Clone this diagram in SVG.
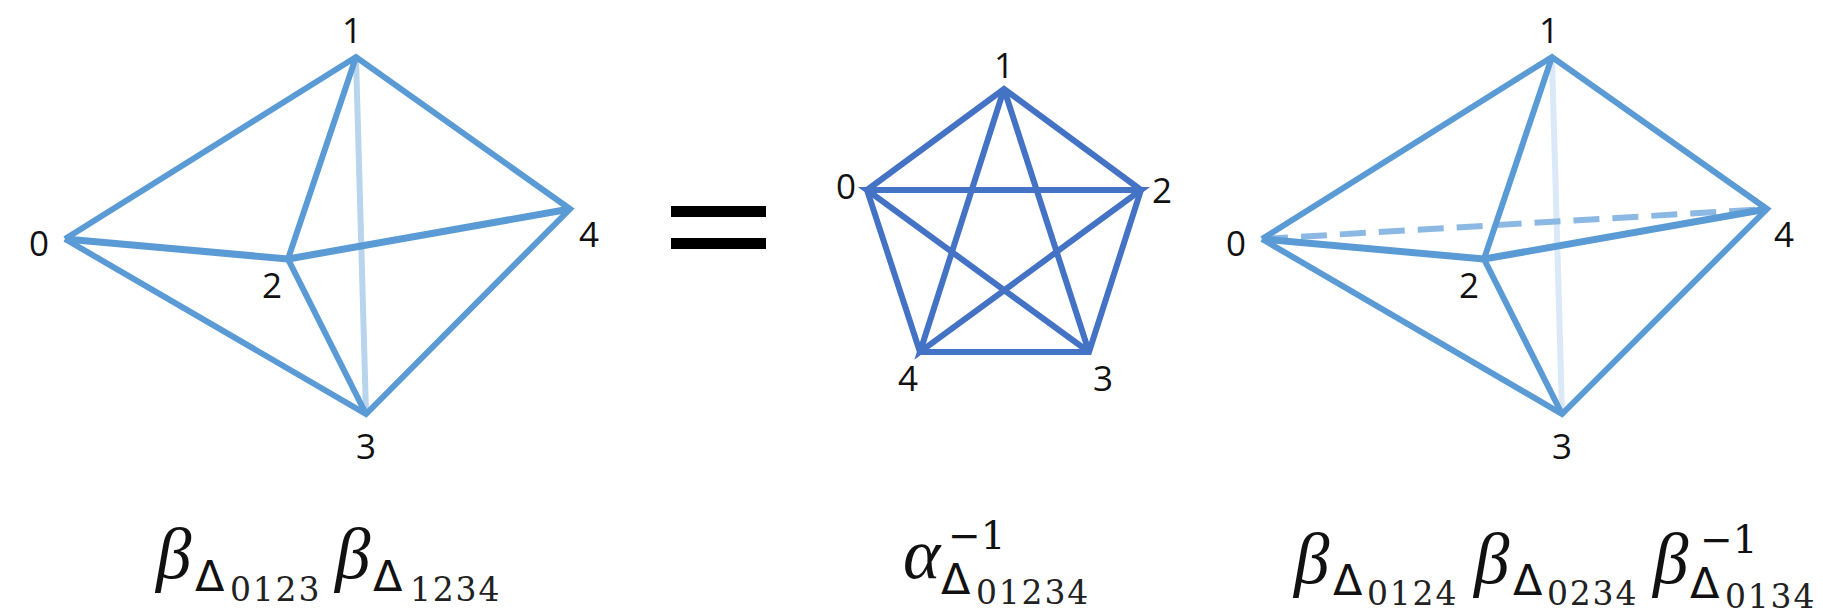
<svg xmlns="http://www.w3.org/2000/svg" width="1823" height="615" viewBox="0 0 1823 615">
<style>
.e{stroke:#5b9bd5;stroke-width:6;fill:none;stroke-linecap:butt;stroke-linejoin:miter}
.t{stroke:#5b9bd5;stroke-width:7;fill:none;stroke-linejoin:round}
.f{stroke:#b9d5ee;stroke-width:6;fill:none}
.g{stroke:#dae8f7;stroke-width:6;fill:none}
.d{stroke:#8cb9e3;stroke-width:6;fill:none;stroke-dasharray:26 13}
.p{stroke:#4472c4;stroke-width:6;fill:none;stroke-linejoin:miter}
.n{font-family:"Open Sans",sans-serif;font-size:35px;fill:#111;text-anchor:middle}
.m{font-family:"Liberation Serif",serif;font-style:italic;font-size:71px;fill:#111}
.s{font-family:"DejaVu Serif",serif;font-size:33px;fill:#222;letter-spacing:1.8px}
.D{font-family:"DejaVu Sans",sans-serif;font-size:43px;fill:#111}
.u{font-family:"DejaVu Serif",serif;font-size:39px;fill:#111}
</style>
<g id="connectors">
<path class="f" d="M356 58L366 413"/>
<path class="e" d="M65 239L356 57L570 209L366 414L65 239"/>
<path class="e" d="M356 57Q318 170 288 259L366 414"/>
<path class="t" d="M65 239L288 259L570 209"/>
<path class="g" d="M1552 58L1562 413"/>
<path class="d" d="M1262 239L1767 209"/>
<path class="e" d="M1262 239L1552 57L1767 209L1562 414L1262 239"/>
<path class="e" d="M1552 57Q1514 170 1484 259L1562 414"/>
<path class="t" d="M1262 239L1484 259L1767 209"/>
<path class="p" d="M1004 89L1141 190L1089 352L920 352L867 190Z"/>
<path class="p" d="M1004 89L1089 352M1004 89L920 352L1141 190L867 190L1089 352"/>
</g>
<g id="equals"><rect x="671" y="206" width="95" height="11"/><rect x="671" y="238" width="95" height="11"/></g>
<g id="left-labels"><text class="n" x="39" y="256">0</text><text class="n" x="352" y="43">1</text><text class="n" x="272" y="298">2</text><text class="n" x="366" y="459">3</text><text class="n" x="589" y="247">4</text></g>
<g id="mid-labels"><text class="n" x="846" y="199">0</text><text class="n" x="1004" y="78">1</text><text class="n" x="1162" y="203">2</text><text class="n" x="1103" y="391">3</text><text class="n" x="908" y="391">4</text></g>
<g id="right-labels"><text class="n" x="1236" y="256">0</text><text class="n" x="1549" y="43">1</text><text class="n" x="1469" y="298">2</text><text class="n" x="1562" y="459">3</text><text class="n" x="1784" y="247">4</text></g>
<g id="formula-left"><text class="m" x="156" y="578">β</text><text class="D" x="195" y="591">Δ</text><text class="s" x="230" y="601">0123</text><text class="m" x="335" y="578">β</text><text class="D" x="373" y="591">Δ</text><text class="s" x="410" y="601">1234</text></g>
<g id="formula-mid"><text class="m" x="903" y="578">α</text><text class="u" x="948" y="549">−1</text><text class="D" x="941" y="594">Δ</text><text class="s" x="976" y="604">01234</text></g>
<g id="formula-right"><text class="m" x="1294" y="583">β</text><text class="D" x="1333" y="595">Δ</text><text class="s" x="1367" y="605">0124</text><text class="m" x="1474" y="583">β</text><text class="D" x="1513" y="595">Δ</text><text class="s" x="1547" y="605">0234</text><text class="m" x="1653" y="583">β</text><text class="u" x="1700" y="553">−1</text><text class="D" x="1690" y="598">Δ</text><text class="s" x="1725" y="608">0134</text></g>
</svg>
